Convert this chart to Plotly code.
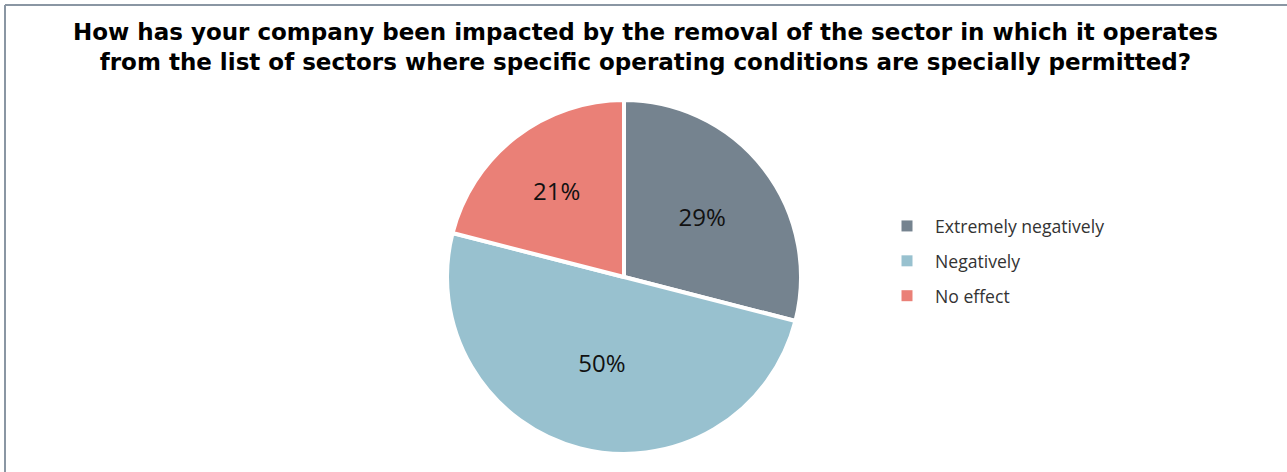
import plotly.graph_objects as go

# Survey answers and their shares (%)
categories = ["Extremely negatively", "Negatively", "No effect"]
shares = [29, 50, 21]
colors = ["#75838f", "#98c1cf", "#ea8077"]

title_text = ("How has your company been impacted by the removal of the sector in which it operates<br>"
              "from the list of sectors where specific operating conditions are specially permitted?")

W, H = 1287, 472

fig = go.Figure()

fig.add_trace(go.Pie(
    labels=categories,
    values=shares,
    marker=dict(colors=colors, line=dict(color="white", width=4)),
    sort=False,
    direction="clockwise",
    rotation=0,
    textinfo="percent",
    texttemplate="%{value}%",
    textposition="inside",
    insidetextorientation="horizontal",
    textfont=dict(family="Open Sans", size=24, color="#111111"),
    domain=dict(x=[447 / W, 801 / W], y=[1 - 454 / H, 1 - 100 / H]),
    showlegend=False,
    hoverinfo="label+percent",
))

# Legend entries: one group per answer so the rows can be spaced apart
for name, col in zip(categories, colors):
    fig.add_trace(go.Scatter(
        x=[None], y=[None], mode="markers", name=name,
        legendgroup=name,
        marker=dict(symbol="square", size=11, color=col),
        hoverinfo="skip",
    ))

fig.update_layout(
    width=W, height=H,
    margin=dict(l=0, r=0, t=0, b=0),
    paper_bgcolor="white",
    plot_bgcolor="white",
    xaxis=dict(visible=False),
    yaxis=dict(visible=False),
    annotations=[dict(
        text="<b>" + title_text.replace("<br>", "</b><br><b>") + "</b>",
        font=dict(family="DejaVu Sans", size=23, color="#000000"),
        xref="paper", yref="paper",
        x=646 / W, xanchor="center",
        y=1 - 17 / H, yanchor="top",
        showarrow=False,
        align="center",
    )],
    legend=dict(
        x=879 / W, xanchor="left",
        y=1 - 208 / H, yanchor="top",
        font=dict(family="Open Sans", size=17.6, color="#333333"),
        itemwidth=46,
        tracegroupgap=9,
        bgcolor="rgba(0,0,0,0)",
    ),
    shapes=[
        dict(type="line", xref="paper", yref="paper",
             x0=5 / W, x1=1.01, y0=1 - 5 / H, y1=1 - 5 / H,
             line=dict(color="#8a96a3", width=2)),
        dict(type="line", xref="paper", yref="paper",
             x0=5 / W, x1=5 / W, y0=-0.01, y1=1 - 5 / H,
             line=dict(color="#8a96a3", width=2)),
    ],
)

fig.write_html("out.html")
